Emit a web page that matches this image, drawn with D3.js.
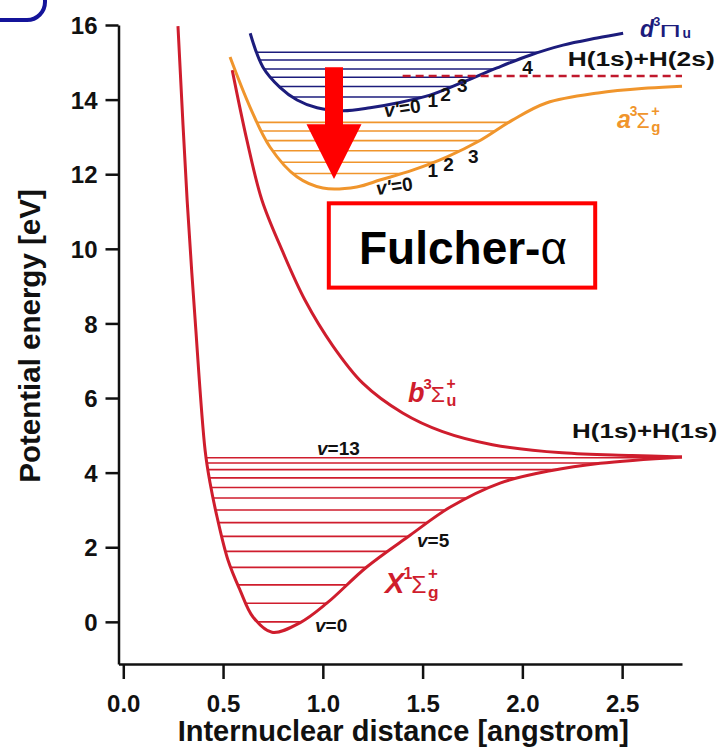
<!DOCTYPE html>
<html>
<head>
<meta charset="utf-8">
<script src="https://cdn.jsdelivr.net/npm/d3@7/dist/d3.min.js"></script>
<style>
  body { margin: 0; background: #fff; }
  svg { display: block; font-family: Arial, "Liberation Sans", Helvetica, sans-serif; }
</style>
</head>
<body>
<div id="chart"></div>
<script>
// H2 POTENTIAL CURVES

// Data (r in angstrom, E in eV)

var xTicks = [0, 0.5, 1.0, 1.5, 2.0, 2.5];
var yTicks = [0, 2, 4, 6, 8, 10, 12, 14, 16];

// X1Sg+ ground state
var groundR = [0.274, 0.32, 0.36, 0.41, 0.435, 0.47, 0.525, 0.585, 0.65, 0.745, 0.887, 1.02, 1.22, 1.437, 1.637, 1.888, 2.14, 2.39, 2.8];
var groundE = [15.97, 11.3, 8.1, 4.6, 3.72, 2.81, 1.65, 0.85, 0.13, -0.28, -0.02, 0.5, 1.47, 2.32, 3.07, 3.72, 4.05, 4.25, 4.42];
var groundLevels = [0.0, 0.5, 0.99, 1.46, 1.89, 2.29, 2.66, 3.0, 3.32, 3.6, 3.86, 4.08, 4.26, 4.4];

// b3Su+ repulsive state
var repR = [0.546, 0.62, 0.695, 0.795, 0.911, 1.05, 1.2, 1.4, 1.6, 1.85, 2.2, 2.55, 2.8];
var repE = [14.79, 12.9, 11.3, 9.97, 8.62, 7.4, 6.4, 5.6, 5.1, 4.75, 4.53, 4.46, 4.42];

// a3Sg+ state
var aR = [0.535, 0.635, 0.735, 0.87, 1.0, 1.17, 1.29, 1.45, 1.62, 1.79, 1.95, 2.12, 2.38, 2.63, 2.8];
var aE = [15.14, 13.8, 12.73, 11.93, 11.63, 11.66, 11.85, 12.11, 12.46, 12.91, 13.45, 13.91, 14.18, 14.31, 14.36];
var aLevels = [12.02, 12.32, 12.63, 12.9, 13.16, 13.39];

// d3Pu state
var dR = [0.636, 0.70, 0.785, 0.871, 0.971, 1.101, 1.237, 1.372, 1.537, 1.703, 1.873, 2.038, 2.204, 2.375, 2.505];
var dE = [15.78, 14.87, 14.33, 13.99, 13.78, 13.70, 13.78, 13.91, 14.12, 14.47, 14.85, 15.19, 15.46, 15.65, 15.78];
var dLevels = [14.07, 14.35, 14.6, 14.82, 15.06, 15.27];

// H(1s)+H(2s) limit
var limit2s = 14.63;
var limit2sFrom = 1.40;

// Chart variables

var width = 719;
var height = 748;
var red = "#cf1d2d", orange = "#f0952c", navy = "#1c1c7c";

var svg = d3.select("#chart").append("svg")
    .attr("width", width)
    .attr("height", height);

var x = d3.scaleLinear().domain([-0.024, 2.8]).range([118.5, 682]);
var y = d3.scaleLinear().domain([-1.13, 16]).range([664, 25]);

var line = d3.line().curve(d3.curveCatmullRom.alpha(0.5));

// corner of the framed panel label (cut off at top left)
svg.append("rect")
    .attr("x", -100).attr("y", -100).attr("width", 145).attr("height", 120)
    .attr("rx", 18)
    .attr("fill", "none").attr("stroke", "#14149a").attr("stroke-width", 4);

// Axes

var xAxis = d3.axisBottom(x).tickValues(xTicks).tickFormat(d3.format(".1f"))
    .tickSize(15).tickSizeOuter(0).tickPadding(16);
var yAxis = d3.axisLeft(y).tickValues(yTicks).tickFormat(d3.format("d"))
    .tickSize(13).tickSizeOuter(0).tickPadding(8);

var gx = svg.append("g").attr("transform", "translate(0," + y.range()[0] + ")").call(xAxis);
var gy = svg.append("g").attr("transform", "translate(" + x.range()[0] + ",0)").call(yAxis);

[gx, gy].forEach(function (g) {
    g.selectAll("path, line").attr("stroke", "#111").attr("stroke-width", 2.5);
    g.selectAll("text").attr("font-size", 24).attr("font-weight", "bold")
        .attr("fill", "#111").attr("font-family", null);
});
gy.selectAll("text").attr("dy", "0.36em");

svg.append("text")
    .attr("x", (x(-0.024) + x(2.8)) / 2 + 3).attr("y", 741)
    .attr("text-anchor", "middle")
    .attr("font-size", 29).attr("font-weight", "bold").attr("fill", "#111")
    .text("Internuclear distance [angstrom]");

svg.append("text")
    .attr("transform", "translate(40," + 336 + ") rotate(-90)")
    .attr("text-anchor", "middle")
    .attr("font-size", 29.5).attr("font-weight", "bold").attr("fill", "#111")
    .text("Potential energy [eV]");

// Curves with their vibrational levels

var curves = svg.append("g");
var levelsG = svg.append("g");

function sample(node) {
    var len = node.getTotalLength(), pts = [];
    for (var s = 0; s <= len; s += 0.5) pts.push(node.getPointAtLength(s));
    pts.push(node.getPointAtLength(len));
    return pts;
}

function spanAt(pts, yp) {
    var xs = [];
    for (var i = 1; i < pts.length; i++) {
        var a = pts[i - 1], b = pts[i];
        if ((a.y - yp) * (b.y - yp) <= 0 && a.y !== b.y) {
            xs.push(a.x + (b.x - a.x) * (yp - a.y) / (b.y - a.y));
        }
    }
    if (xs.length < 2) xs.push(pts[pts.length - 1].x);
    return d3.extent(xs);
}

function drawState(rs, es, color, levels) {
    var path = curves.append("path")
        .attr("d", line(rs.map(function (r, i) { return [x(r), y(es[i])]; })))
        .attr("fill", "none")
        .attr("stroke", color)
        .attr("stroke-width", 3);
    if (!levels) return;
    var pts = sample(path.node());
    levels.forEach(function (lev) {
        var span = spanAt(pts, y(lev));
        levelsG.append("line")
            .attr("x1", span[0]).attr("x2", span[1])
            .attr("y1", y(lev)).attr("y2", y(lev))
            .attr("stroke", color)
            .attr("stroke-width", 1.6);
    });
}

drawState(groundR, groundE, red, groundLevels);
drawState(repR, repE, red, null);
drawState(aR, aE, orange, aLevels);
drawState(dR, dE, navy, dLevels);
curves.raise();

// H(1s)+H(2s) dashed limit
svg.append("line")
    .attr("x1", x(limit2sFrom)).attr("x2", x(2.8))
    .attr("y1", y(limit2s)).attr("y2", y(limit2s))
    .attr("stroke", "#c0182c").attr("stroke-width", 2.5)
    .attr("stroke-dasharray", "8,5");

// Labels

function label(r, e, txt, size, weight, color, extra) {
    var t = svg.append("text")
        .attr("x", x(r)).attr("y", y(e))
        .attr("font-size", size).attr("font-weight", weight)
        .attr("fill", color)
        .text(txt);
    if (extra) extra(t);
    return t;
}

// term symbol like X^1 Sigma_g^+
function term(r, e, color, letter, mult, greek, sub, plus, s) {
    var g = svg.append("g")
        .attr("transform", "translate(" + x(r) + "," + y(e) + ")")
        .attr("fill", color);
    var t1 = g.append("text").attr("font-size", s).attr("font-weight", "bold")
        .attr("font-style", "italic").text(letter);
    var w = t1.node().getComputedTextLength();
    var t2 = g.append("text").attr("x", w - 1).attr("y", -0.5 * s)
        .attr("font-size", 0.55 * s).attr("font-weight", "bold").text(mult);
    w += t2.node().getComputedTextLength() - 2;
    var t3 = g.append("text").attr("x", w).attr("y", 0)
        .attr("font-size", 0.85 * s).text(greek);
    if (greek === "\u03A0") t3.attr("textLength", 0.95 * s).attr("lengthAdjust", "spacingAndGlyphs")
        .attr("font-size", 0.75 * s);
    w += t3.node().getComputedTextLength() + 1.5;
    if (plus) g.append("text").attr("x", w).attr("y", -0.5 * s)
        .attr("font-size", 0.58 * s).attr("font-weight", "bold").text("+");
    g.append("text").attr("x", w).attr("y", plus ? 0.16 * s : 0.05 * s)
        .attr("font-size", 0.6 * s).attr("font-weight", "bold").text(sub);
}

term(2.59, 15.67, navy, "d", "3", "\u03A0", "u", false, 23);
term(2.474, 13.23, orange, "a", "3", "\u03A3", "g", true, 25);
term(1.427, 5.89, red, "b", "3", "\u03A3", "u", true, 27);
term(1.312, 0.77, red, "X", "1", "\u03A3", "g", true, 29);

label(2.227, 14.9, "H(1s)+H(2s)", 20, "bold", "#111", function (t) {
    t.attr("textLength", 147).attr("lengthAdjust", "spacingAndGlyphs");
});
label(2.249, 4.92, "H(1s)+H(1s)", 20, "bold", "#111", function (t) {
    t.attr("textLength", 145).attr("lengthAdjust", "spacingAndGlyphs");
});

function vLabel(r, e, prime, num, rot) {
    var t = label(r, e, "", 19, "bold", "#111");
    t.append("tspan").attr("font-style", "italic").text("v" + (prime ? "'" : ""));
    t.append("tspan").text("=" + num);
    if (rot) t.attr("transform", "rotate(" + rot + "," + x(r) + "," + y(e) + ")");
    return t;
}
vLabel(0.971, 4.47, false, "13");
vLabel(1.472, 2.0, false, "5");
vLabel(0.961, -0.28, false, "0");

vLabel(1.272, 11.44, true, "0", -8);
label(1.524, 11.92, "1", 19, "bold", "#111");
label(1.604, 12.08, "2", 19, "bold", "#111");
label(1.728, 12.30, "3", 19, "bold", "#111");

vLabel(1.312, 13.53, true, "0", -8);
label(1.524, 13.80, "1", 19, "bold", "#111");
label(1.588, 13.96, "2", 19, "bold", "#111");
label(1.673, 14.20, "3", 19, "bold", "#111");
label(1.999, 14.68, "4", 19, "bold", "#111");

// Fulcher-alpha transition arrow
var arrowR = 1.056, arrowTop = 14.87, arrowHead = 13.34, arrowTip = 11.87;
var ax = x(arrowR);
svg.append("path")
    .attr("d", "M" + (ax - 9) + "," + y(arrowTop) +
        "H" + (ax + 9) + "V" + y(arrowHead) +
        "H" + (ax + 27.5) + "L" + ax + "," + y(arrowTip) +
        "L" + (ax - 27.5) + "," + y(arrowHead) +
        "H" + (ax - 9) + "Z")
    .attr("fill", "#ff0000");

// Fulcher-alpha box
var box = { r0: 1.03, r1: 2.365, e0: 11.22, e1: 8.96 };
svg.append("rect")
    .attr("x", x(box.r0)).attr("y", y(box.e0))
    .attr("width", x(box.r1) - x(box.r0)).attr("height", y(box.e1) - y(box.e0))
    .attr("fill", "#fff").attr("stroke", "#ff0000").attr("stroke-width", 4);
var ft = svg.append("text")
    .attr("x", (x(box.r0) + x(box.r1)) / 2 + 1).attr("y", y(box.e1) - 24)
    .attr("text-anchor", "middle")
    .attr("font-size", 46).attr("font-weight", "bold").attr("fill", "#000");
ft.append("tspan").text("Fulcher-");
ft.append("tspan").attr("font-weight", "normal").text("\u03B1");
</script>
</body>
</html>
